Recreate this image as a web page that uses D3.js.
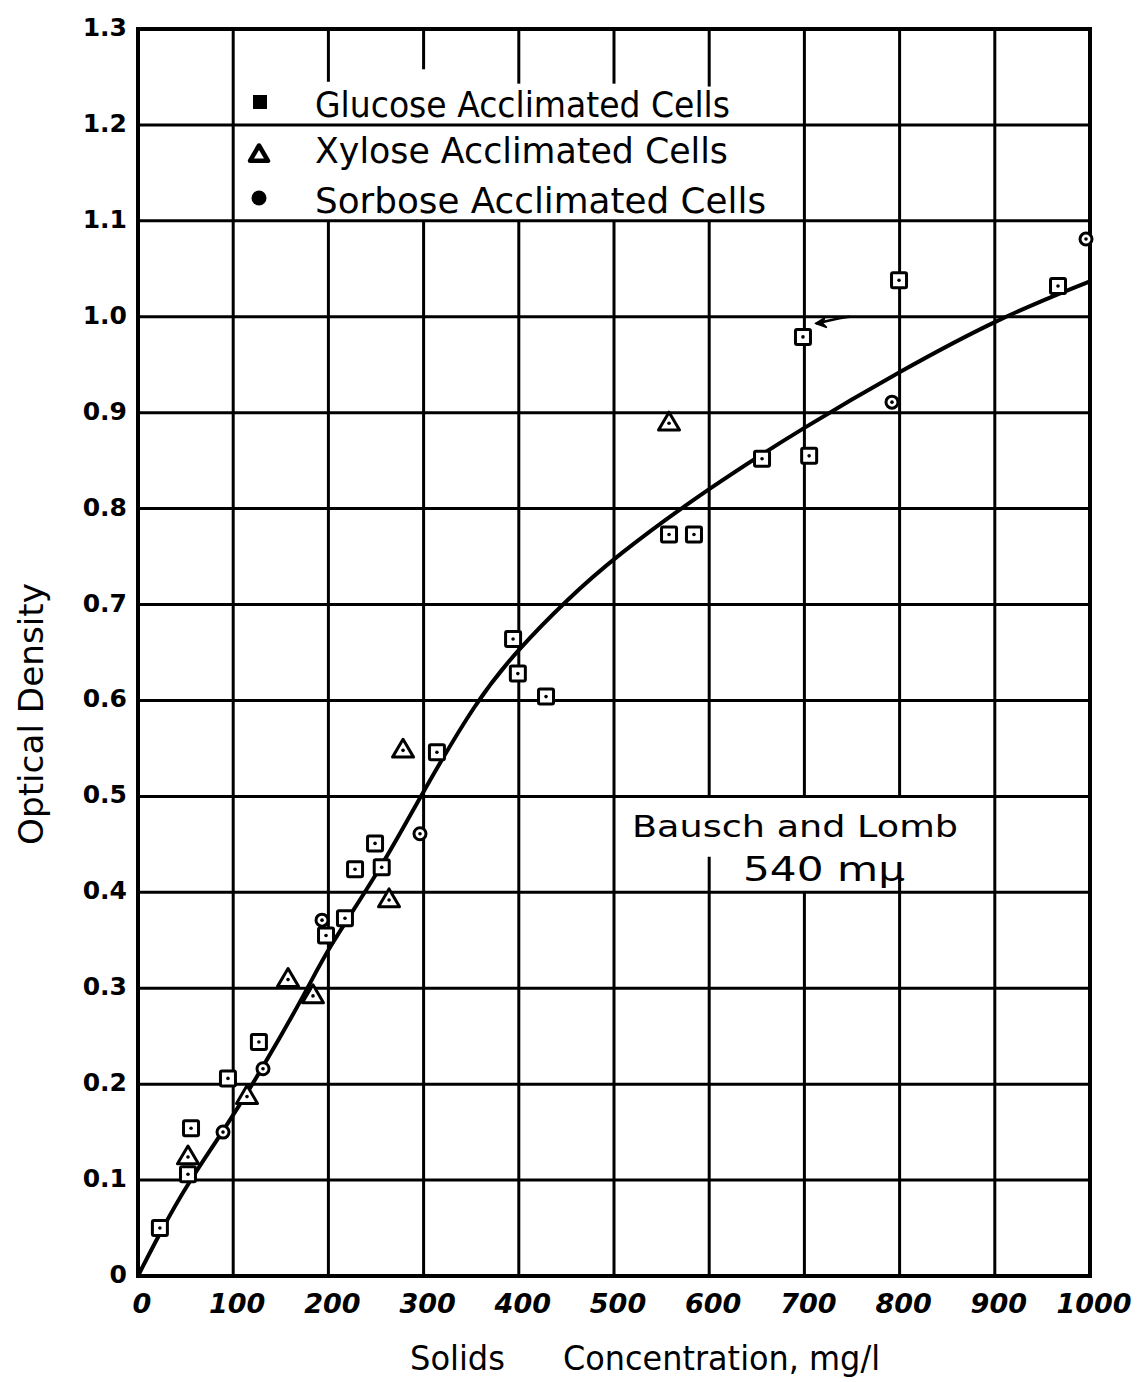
<!DOCTYPE html>
<html>
<head>
<meta charset="utf-8">
<script src="https://cdn.jsdelivr.net/npm/d3@7"></script>
<style>
  html, body { margin: 0; padding: 0; background: #fff; }
  svg { display: block; }
  text { font-family: "DejaVu Sans", "Liberation Sans", sans-serif; fill: #000; }
</style>
</head>
<body>
<svg id="chart" width="1138" height="1382"></svg>
<script>
// ---------------- DATA ----------------
const xTicks = [0, 100, 200, 300, 400, 500, 600, 700, 800, 900, 1000];
const xTickLabels = ["0", "100", "200", "300", "400", "500", "600", "700", "800", "900", "1000"];
const yTicks = [0, 0.1, 0.2, 0.3, 0.4, 0.5, 0.6, 0.7, 0.8, 0.9, 1.0, 1.1, 1.2, 1.3];
const yTickLabels = ["0", "0.1", "0.2", "0.3", "0.4", "0.5", "0.6", "0.7", "0.8", "0.9", "1.0", "1.1", "1.2", "1.3"];

const glucoseX = [23, 52.5, 55.7, 94.5, 127, 197.5, 217.4, 228, 249, 256, 314, 394, 399, 428.6, 557.8, 584, 655.5, 705, 698.5, 799.4, 966.4];
const glucoseY = [0.050, 0.106, 0.154, 0.206, 0.244, 0.355, 0.373, 0.424, 0.451, 0.426, 0.546, 0.664, 0.628, 0.604, 0.773, 0.773, 0.852, 0.855, 0.979, 1.038, 1.032];

const xyloseX = [52.5, 114.5, 157.6, 183.8, 263.7, 278.4, 557.8];
const xyloseY = [0.124, 0.187, 0.309, 0.292, 0.392, 0.548, 0.889];

const sorboseX = [89.3, 131.3, 193.3, 296.2, 792, 995.8];
const sorboseY = [0.150, 0.216, 0.371, 0.461, 0.911, 1.081];

// hand-drawn fitted curve
const curveX = [0, 23, 52.5, 89, 131, 177.5, 198.5, 256, 296, 356, 399, 450.6, 500, 600, 700, 800, 905, 1000];
const curveY = [0, 0.045, 0.097, 0.150, 0.217, 0.298, 0.340, 0.426, 0.499, 0.601, 0.653, 0.705, 0.749, 0.822, 0.885, 0.943, 0.999, 1.037];

const legendLabels = ["Glucose Acclimated Cells", "Xylose Acclimated Cells", "Sorbose Acclimated Cells"];
const noteLines = ["Bausch and Lomb", "540 m\u03BC"];
const xTitleWords = ["Solids", "Concentration, mg/l"];
const yTitle = "Optical  Density";

// where the paper's vertical rulings are interrupted (value ranges of y)
const vGridGaps = {
  200: [[1.1, 1.245]],
  300: [[1.1, 1.258]],
  400: [[1.1, 1.243]],
  500: [[1.1, 1.243]],
  600: [[1.1, 1.24], [0.437, 0.5]],
  700: [[0.4, 0.5]],
  800: [[0.413, 0.5]]
};

// small hand-drawn arrow on the 1.0 ruling
const arrowX = [748, 733, 712];
const arrowY = [1.0, 0.998, 0.993];

// ---------------- CHART ----------------
const svg = d3.select("#chart");
const x = d3.scaleLinear().domain([0, 1000]).range([138, 1090]);
const y = d3.scaleLinear().domain([0, 1.3]).range([1276, 29]);

const grid = svg.append("g").attr("stroke", "#000").attr("stroke-width", 3).attr("fill", "none");

// horizontal rulings
grid.selectAll("line.h").data(yTicks.slice(1, -1)).join("line")
  .attr("class", "h")
  .attr("x1", x(0)).attr("x2", x(1000))
  .attr("y1", d => y(d)).attr("y2", d => y(d));

// vertical rulings (with gaps)
xTicks.slice(1, -1).forEach(v => {
  const gaps = (vGridGaps[v] || []).slice().sort((a, b) => a[0] - b[0]);
  let segs = [];
  let start = 0;
  gaps.forEach(g => { segs.push([start, g[0]]); start = g[1]; });
  segs.push([start, 1.3]);
  segs.forEach(s => {
    grid.append("line")
      .attr("x1", x(v)).attr("x2", x(v))
      .attr("y1", y(s[0])).attr("y2", y(s[1]));
  });
});

// frame
svg.append("rect")
  .attr("x", x(0)).attr("y", y(1.3))
  .attr("width", x(1000) - x(0)).attr("height", y(0) - y(1.3))
  .attr("fill", "none").attr("stroke", "#000").attr("stroke-width", 4);

// arrow mark
const arrowLine = d3.line().x(d => x(d[0])).y(d => y(d[1])).curve(d3.curveBasis);
const arrowPts = arrowX.map((v, i) => [v, arrowY[i]]);
svg.append("path").attr("d", arrowLine(arrowPts))
  .attr("fill", "none").attr("stroke", "#000").attr("stroke-width", 2.5);
{
  const ax = x(arrowX[arrowX.length - 1]), ay = y(arrowY[arrowY.length - 1]);
  svg.append("path")
    .attr("d", `M${ax},${ay} l9,-6 l-2,6 l4,4 z`)
    .attr("fill", "#000").attr("stroke", "#000").attr("stroke-width", 1.5);
}

// fitted curve
const curvePts = curveX.map((v, i) => [v, curveY[i]]);
const line = d3.line().x(d => x(d[0])).y(d => y(d[1])).curve(d3.curveBasis);
svg.append("path").attr("d", line(curvePts))
  .attr("fill", "none").attr("stroke", "#000").attr("stroke-width", 4).attr("stroke-linecap", "round");

// markers
const mk = svg.append("g");
const gl = glucoseX.map((v, i) => [v, glucoseY[i]]);
const xy = xyloseX.map((v, i) => [v, xyloseY[i]]);
const so = sorboseX.map((v, i) => [v, sorboseY[i]]);

mk.selectAll("rect.g").data(gl).join("rect")
  .attr("class", "g")
  .attr("x", d => x(d[0]) - 7.5).attr("y", d => y(d[1]) - 7.5)
  .attr("width", 15).attr("height", 15).attr("rx", 1.5)
  .attr("fill", "#fff").attr("stroke", "#000").attr("stroke-width", 3);

const triPath = (cx, cy, s) => {
  const h = s * 0.85;
  return `M${cx},${cy - h * 0.62} L${cx + s / 2},${cy + h * 0.38} L${cx - s / 2},${cy + h * 0.38} Z`;
};
mk.selectAll("path.t").data(xy).join("path")
  .attr("class", "t")
  .attr("d", d => triPath(x(d[0]), y(d[1]), 21))
  .attr("fill", "#fff").attr("stroke", "#000").attr("stroke-width", 3).attr("stroke-linejoin", "round");

mk.selectAll("circle.s").data(so).join("circle")
  .attr("class", "s")
  .attr("cx", d => x(d[0])).attr("cy", d => y(d[1])).attr("r", 6)
  .attr("fill", "#fff").attr("stroke", "#000").attr("stroke-width", 3);

// centre dots
mk.selectAll("circle.dot").data(gl.concat(xy, so)).join("circle")
  .attr("class", "dot")
  .attr("cx", d => x(d[0])).attr("cy", d => y(d[1])).attr("r", 1.8)
  .attr("fill", "#000");

// ---------------- TEXT ----------------
// x tick labels
svg.append("g").selectAll("text").data(xTicks).join("text")
  .attr("x", d => x(d) + 4).attr("y", 1313)
  .attr("text-anchor", "middle")
  .attr("font-size", 27).attr("font-weight", "bold").attr("font-style", "italic")
  .text((d, i) => xTickLabels[i]);

// y tick labels
svg.append("g").selectAll("text").data(yTicks).join("text")
  .attr("x", 127).attr("y", d => y(d) + 7)
  .attr("text-anchor", "end")
  .attr("font-size", 25).attr("font-weight", "bold")
  .text((d, i) => yTickLabels[i]);

// legend
const legY = [117, 163, 213];
const legW = [415, 413, 451];
const leg = svg.append("g");
legendLabels.forEach((t, i) => {
  leg.append("text").attr("x", 315).attr("y", legY[i])
    .attr("font-size", 36)
    .attr("textLength", legW[i]).attr("lengthAdjust", "spacingAndGlyphs")
    .text(t);
});
leg.append("rect").attr("x", 253).attr("y", 95).attr("width", 14).attr("height", 14).attr("fill", "#000");
leg.append("path").attr("d", triPath(259, 155, 18))
  .attr("fill", "#fff").attr("stroke", "#000").attr("stroke-width", 4.5).attr("stroke-linejoin", "round");
leg.append("circle").attr("cx", 259).attr("cy", 198).attr("r", 7.5).attr("fill", "#000");

// instrument note
svg.append("text").attr("x", 632).attr("y", 837)
  .attr("font-size", 30).attr("textLength", 326).attr("lengthAdjust", "spacingAndGlyphs")
  .text(noteLines[0]);
svg.append("text").attr("x", 743).attr("y", 881)
  .attr("font-size", 33).attr("textLength", 162).attr("lengthAdjust", "spacingAndGlyphs")
  .text(noteLines[1]);

// axis titles
svg.append("text").attr("x", 410).attr("y", 1370)
  .attr("font-size", 33).attr("textLength", 95).attr("lengthAdjust", "spacingAndGlyphs")
  .text(xTitleWords[0]);
svg.append("text").attr("x", 563).attr("y", 1370)
  .attr("font-size", 33).attr("textLength", 317).attr("lengthAdjust", "spacingAndGlyphs")
  .text(xTitleWords[1]);

svg.append("text")
  .attr("transform", "translate(43,714) rotate(-90)")
  .attr("text-anchor", "middle")
  .attr("font-size", 34).attr("textLength", 262).attr("lengthAdjust", "spacingAndGlyphs")
  .text(yTitle);
</script>
</body>
</html>
